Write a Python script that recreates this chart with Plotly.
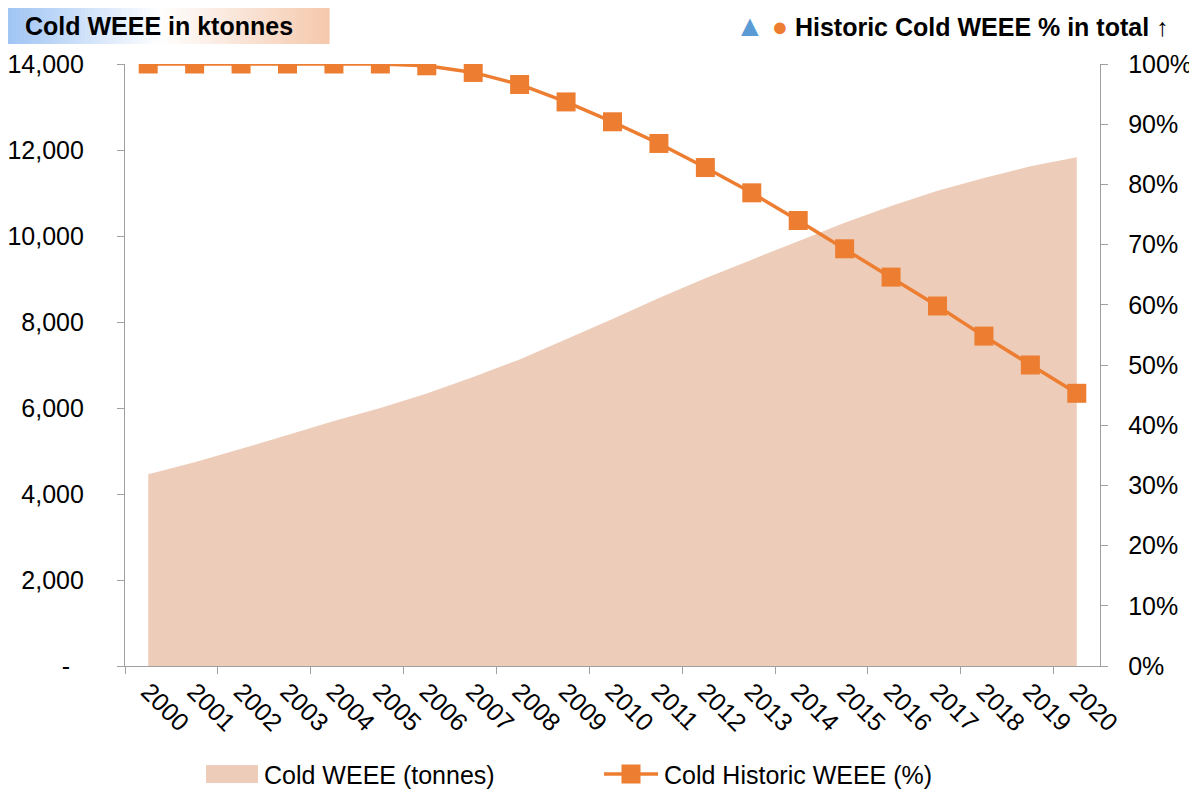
import plotly.graph_objects as go

years = list(range(2000, 2021))
year_labels = [str(y) for y in years]
cold_weee_tonnes = [4460, 4740, 5050, 5370, 5700, 6000, 6340, 6720, 7130, 7600,
                    8070, 8560, 9020, 9450, 9880, 10310, 10700, 11050, 11350, 11620, 11830]
cold_historic_pct = [100, 100, 100, 100, 100, 100, 99.7, 98.6, 96.6, 93.7,
                     90.4, 86.8, 82.8, 78.6, 74.0, 69.3, 64.6, 59.8, 54.8, 50.0, 45.3]
left_tickvals = [0, 2000, 4000, 6000, 8000, 10000, 12000, 14000]
left_ticktext = ["-\u00a0\u00a0", "2,000", "4,000", "6,000", "8,000", "10,000", "12,000", "14,000"]
series_names = ["Cold WEEE (tonnes)", "Cold Historic WEEE (%)"]

FONT = "Arial, Liberation Sans, sans-serif"
AXC = "#A0A0A0"
ORANGE = "#ED7D31"
AREA = "rgb(237,205,185)"
FS = 25

# the page body has an 8px margin; work in window pixels and offset
OFF = 8
W, H = 1197 - OFF, 798 - OFF

fig = go.Figure()
fig.add_trace(go.Scatter(
    x=years, y=cold_weee_tonnes, name=series_names[0],
    mode="none", fill="tozeroy", fillcolor=AREA, showlegend=False,
))
fig.add_trace(go.Scatter(
    x=years, y=[v / 100 for v in cold_historic_pct], name=series_names[1],
    yaxis="y2", mode="lines+markers", showlegend=False,
    line=dict(color=ORANGE, width=3.5),
    marker=dict(symbol="square", size=19, color=ORANGE),
))

# plot area in window pixels
L, R, T, B = 125, 1100, 64, 666
def px(x):
    return (x - L) / (R - L)
def py(y):
    return (B - y) / (B - T)

shapes = []
# gradient title box
n = 80
x_start, x_end = 4, 329
c_left = (157, 195, 244)
c_mid = (255, 255, 255)
c_right = (245, 201, 173)
for i in range(n):
    t = (i + 0.5) / n
    if t < 0.48:
        f = t / 0.48
        c = tuple(int(c_left[k] + (c_mid[k] - c_left[k]) * f) for k in range(3))
    else:
        f = (t - 0.48) / 0.52
        c = tuple(int(c_mid[k] + (c_right[k] - c_mid[k]) * f) for k in range(3))
    xa = x_start + (x_end - x_start) * i / n
    xb = x_start + (x_end - x_start) * (i + 1) / n + 0.6
    shapes.append(dict(type="rect", xref="paper", yref="paper",
                       x0=px(xa), x1=px(xb), y0=py(44), y1=py(2),
                       line=dict(width=0), fillcolor="rgb(%d,%d,%d)" % c, layer="below"))

# legend keys (drawn manually)
shapes.append(dict(type="rect", xref="paper", yref="paper",
                   x0=px(206), x1=px(258), y0=py(783), y1=py(765),
                   line=dict(width=0), fillcolor=AREA))
shapes.append(dict(type="line", xref="paper", yref="paper",
                   x0=px(604), x1=px(658), y0=py(774), y1=py(774),
                   line=dict(width=3.5, color=ORANGE)))
shapes.append(dict(type="rect", xref="paper", yref="paper",
                   x0=px(621.5), x1=px(640.5), y0=py(783.5), y1=py(764.5),
                   line=dict(width=0), fillcolor=ORANGE))

fig.update_layout(
    width=W, height=H,
    margin=dict(l=L - OFF, r=1197 - R, t=T - OFF, b=798 - B, autoexpand=False),
    paper_bgcolor="white", plot_bgcolor="white",
    font=dict(family=FONT, size=FS, color="#000000"),
    showlegend=False,
    xaxis=dict(
        range=[1999.5, 2020.5], tickmode="array", tickvals=years, ticktext=year_labels,
        tickangle=45, ticks="", showline=True, linecolor=AXC, linewidth=1.3,
        showgrid=False, zeroline=False, tickfont=dict(size=FS), automargin=False,
        minor=dict(ticks="outside", tickmode="linear", tick0=1999.5, dtick=2,
                   ticklen=7, tickcolor=AXC, tickwidth=1.3, showgrid=False),
    ),
    yaxis=dict(
        range=[0, 14000], tickmode="array", tickvals=left_tickvals, ticktext=left_ticktext,
        ticks="outside", ticklen=7, tickcolor=AXC, tickwidth=1.3,
        showline=True, linecolor=AXC, linewidth=1.3, showgrid=False, zeroline=False,
        ticklabelstandoff=28, tickfont=dict(size=FS), automargin=False,
    ),
    yaxis2=dict(
        range=[0, 1], overlaying="y", side="right", tickformat=".0%", dtick=0.1, tick0=0,
        ticks="outside", ticklen=7, tickcolor=AXC, tickwidth=1.3,
        showline=True, linecolor=AXC, linewidth=1.3, showgrid=False, zeroline=False,
        ticklabelstandoff=15, tickfont=dict(size=FS), automargin=False,
    ),
    shapes=shapes,
    annotations=[
        dict(xref="paper", yref="paper", x=px(23), y=py(26), xanchor="left", yanchor="middle",
             text="<b>Cold WEEE in ktonnes</b>", showarrow=False,
             font=dict(size=FS, family=FONT, color="#000000")),
        dict(xref="paper", yref="paper", x=px(1171), y=py(25), xanchor="right", yanchor="middle",
             text="<span style='color:#5B9BD5;font-size:30px'>▲</span> "
                  "<span style='color:#ED7D31;font-size:27px'>●</span> "
                  "<b>Historic Cold WEEE % in total</b> ↑",
             showarrow=False, font=dict(size=FS, family=FONT, color="#000000")),
        dict(xref="paper", yref="paper", x=px(262), y=py(775), xanchor="left", yanchor="middle",
             text=series_names[0], showarrow=False,
             font=dict(size=FS, family=FONT, color="#000000")),
        dict(xref="paper", yref="paper", x=px(662), y=py(775), xanchor="left", yanchor="middle",
             text=series_names[1], showarrow=False,
             font=dict(size=FS, family=FONT, color="#000000")),
    ],
)

fig.write_html("out.html")
